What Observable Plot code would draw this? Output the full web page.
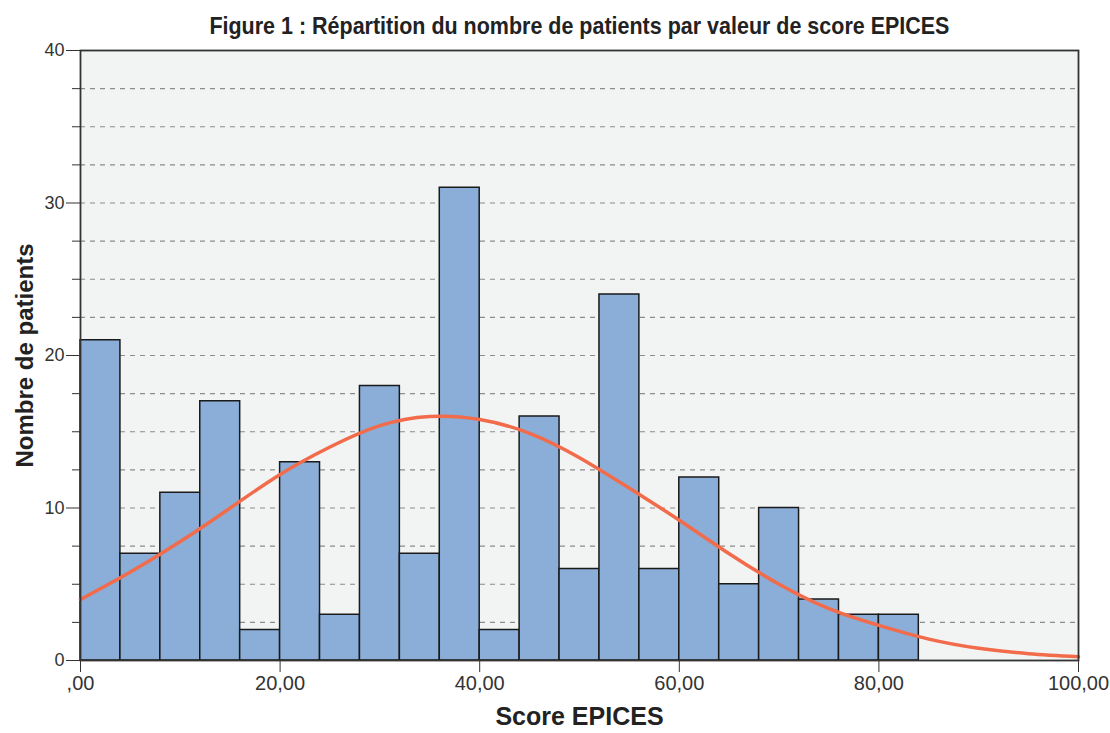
<!DOCTYPE html>
<html>
<head>
<meta charset="utf-8">
<script src="https://cdn.jsdelivr.net/npm/d3@7"></script>
<script src="https://cdn.jsdelivr.net/npm/@observablehq/plot@0.6"></script>
<style>
  body { margin: 0; background: #fff; font-family: "Liberation Sans", Arial, sans-serif; }
  #title { margin-left: 80px; width: 998px; height: 40px; box-sizing: border-box; padding-top: 14px;
    text-align: center; white-space: nowrap; }
  #title span { display: inline-block; transform: scaleX(0.895); transform-origin: center;
    font-family: "Liberation Sans", Arial, sans-serif; font-weight: bold; font-size: 24px; line-height: 1; color: #222; }
</style>
</head>
<body>
<div id="title"><span>Figure 1 : Répartition du nombre de patients par valeur de score EPICES</span></div>
<div id="chart"></div>
<script>
// Histogram bins (lower edge, width 4) and counts
const binStarts = [0, 4, 8, 12, 16, 20, 24, 28, 32, 36, 40, 44, 48, 52, 56, 60, 64, 68, 72, 76, 80];
const binWidth = 4;
const counts = [21, 7, 11, 17, 2, 13, 3, 18, 7, 31, 2, 16, 6, 24, 6, 12, 5, 10, 4, 3, 3];

// Normal curve
const curveX = [0, 5, 10, 15, 20, 25, 30, 35, 40, 45, 50, 55, 60, 65, 70, 75, 80, 85, 90, 95, 100];
const curveY = [4.0, 5.8, 7.8, 10.0, 12.2, 14.0, 15.4, 16.0, 15.8, 14.9, 13.3, 11.3, 9.2, 7.0, 5.0, 3.4, 2.3, 1.4, 0.8, 0.45, 0.25];

const yMajorTicks = [0, 10, 20, 30, 40];
const yMinorTicks = [2.5, 5, 7.5, 12.5, 15, 17.5, 22.5, 25, 27.5, 32.5, 35, 37.5];
const gridValues = [2.5, 5, 7.5, 10, 12.5, 15, 17.5, 20, 22.5, 25, 27.5, 30, 32.5, 35, 37.5];
const xTicks = [0, 20, 40, 60, 80, 100];

const bars = binStarts.map((s, i) => ({x1: s, x2: s + binWidth, y: counts[i]}));
const curve = curveX.map((x, i) => ({x, y: curveY[i]}));

const fmtX = d => d === 0 ? ",00" : d.toFixed(2).replace(".", ",");

const chart = Plot.plot({
  width: 1110,
  height: 693,
  marginTop: 10,
  marginLeft: 80,
  marginRight: 32,
  marginBottom: 73,
  style: {fontFamily: "'Liberation Sans', Arial, sans-serif", background: "transparent", overflow: "visible"},
  x: {domain: [0, 100]},
  y: {domain: [0, 40]},
  marks: [
    Plot.frame({fill: "#f2f3f3", stroke: "none"}),
    Plot.ruleY(gridValues, {stroke: "#8c8c8c", strokeWidth: 1.2, strokeDasharray: "5,5"}),
    Plot.rectY(bars, {x1: "x1", x2: "x2", y: "y", fill: "#8aaed8", stroke: "#1a1a1a", strokeWidth: 1.5, inset: 0}),
    Plot.line(curve, {x: "x", y: "y", stroke: "#f26b4a", strokeWidth: 3.5, curve: "natural"}),
    Plot.frame({stroke: "#333", strokeWidth: 1.8}),
    Plot.axisY({ticks: yMajorTicks, tickSize: 14, tickPadding: 2, fontSize: 18, color: "#333", label: null}),
    Plot.axisY({ticks: yMinorTicks, tickSize: 8, tickFormat: () => "", color: "#333", label: null}),
    Plot.axisX({ticks: xTicks, tickSize: 12, tickPadding: 3, fontSize: 20, color: "#333", tickFormat: fmtX, label: null}),
    Plot.text(["Nombre de patients"], {frameAnchor: "left", dx: -55, rotate: -90, textAnchor: "middle", lineAnchor: "middle", fontSize: 24, fontWeight: "bold", fill: "#222"}),
    Plot.text(["Score EPICES"], {frameAnchor: "bottom", dy: 56, textAnchor: "middle", lineAnchor: "middle", fontSize: 25, fontWeight: "bold", fill: "#222"})
  ]
});
document.getElementById("chart").appendChild(chart);
</script>
</body>
</html>
